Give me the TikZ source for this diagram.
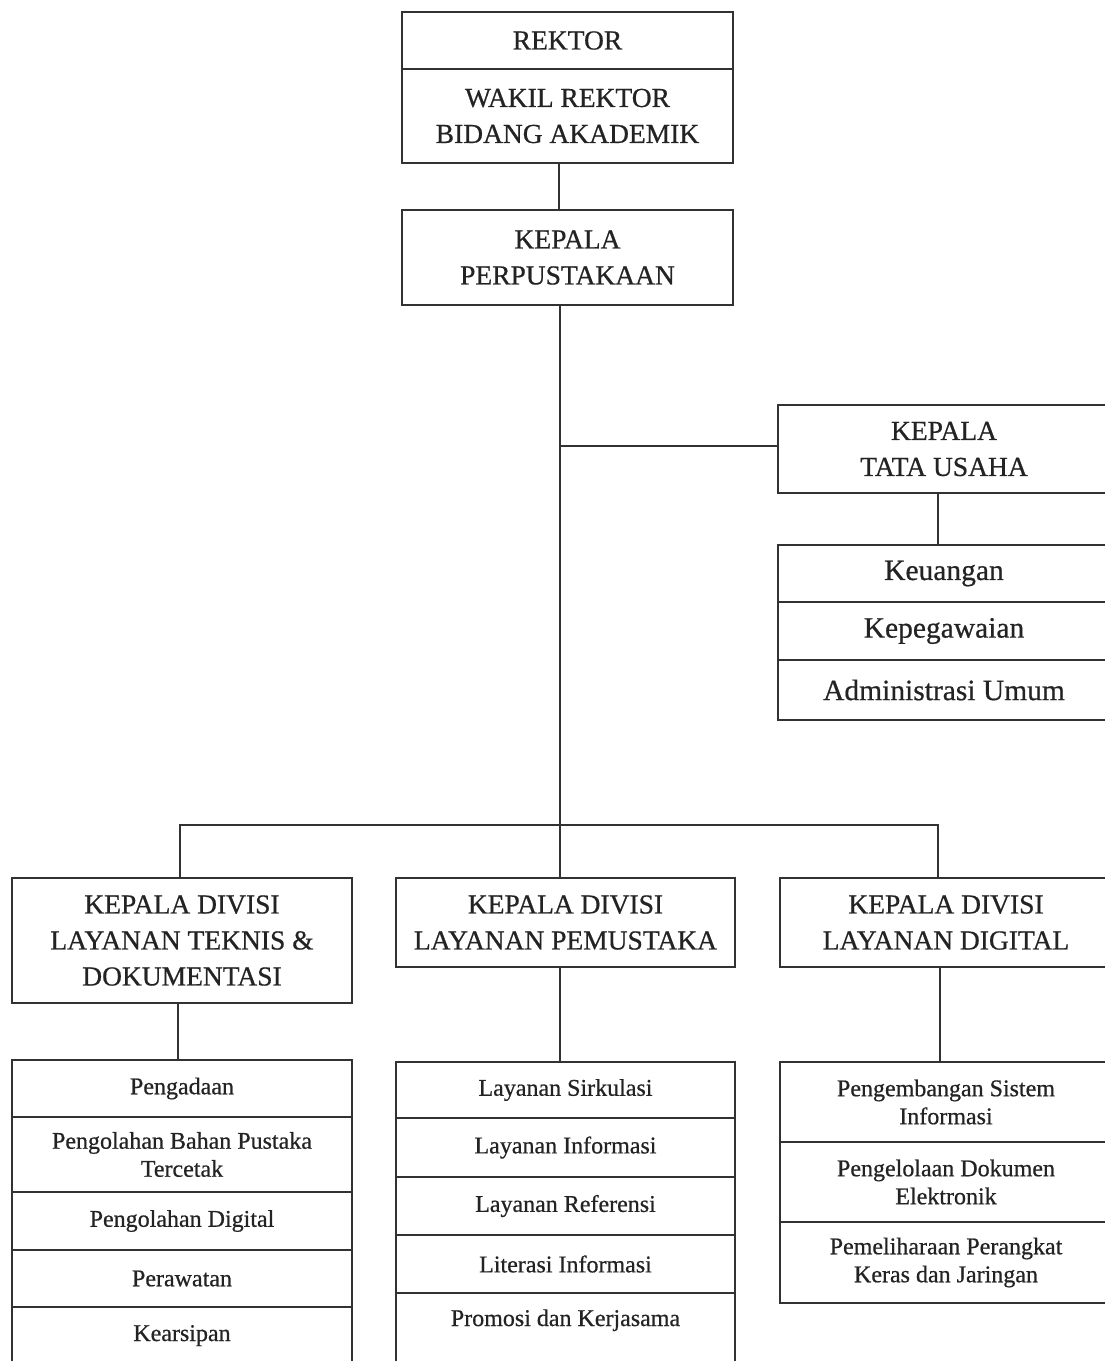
\documentclass[tikz,border=0pt]{standalone}
\usepackage{fontspec}
\setmainfont[FakeBold=0.6]{Liberation Serif}
\begin{document}
\begin{tikzpicture}[x=1pt,y=-1pt,
    box/.style={shape=rectangle,draw=orgline,line width=2pt,text=orgtext,align=center,inner sep=0pt},
    bigtxt/.style={font=\fontsize{27.5}{36}\selectfont},
    midtxt/.style={font=\fontsize{29.5}{34}\selectfont},
    smalltxt/.style={font=\fontsize{24}{28}\selectfont},
    link/.style={draw=orgline,line width=2pt}]
    \definecolor{orgline}{RGB}{50,50,50}
    \definecolor{orgtext}{RGB}{35,35,35}
    \useasboundingbox[fill=white] (0,0) rectangle (1104,1361);
    % top of the chart
    \node[box,bigtxt,minimum width=331,minimum height=57] (rektor) at (567.5,40.5) {REKTOR};
    \node[box,bigtxt,minimum width=331,minimum height=94] (wakil) at (567.5,116) {WAKIL REKTOR\\BIDANG AKADEMIK};
    \node[box,bigtxt,minimum width=331,minimum height=95] (kepala) at (567.5,257.5) {KEPALA\\PERPUSTAKAAN};
    % tata usaha
    \node[box,bigtxt,minimum width=332,minimum height=88] (tatausaha) at (944,449) {KEPALA\\TATA USAHA};
    \node[box,midtxt,minimum width=332,minimum height=57] (keuangan) at (944,573.5) {Keuangan};
    \node[box,midtxt,minimum width=332,minimum height=58] (pegawai) at (944,631) {Kepegawaian};
    \node[box,midtxt,minimum width=332,minimum height=60] (adminum) at (944,690) {Administrasi Umum};
    % divisi
    \node[box,bigtxt,minimum width=340,minimum height=125] (divteknis) at (182,940.5) {KEPALA DIVISI\\LAYANAN TEKNIS \&\\DOKUMENTASI};
    \node[box,bigtxt,minimum width=339,minimum height=89] (divpemustaka) at (565.5,922.5) {KEPALA DIVISI\\LAYANAN PEMUSTAKA};
    \node[box,bigtxt,minimum width=332,minimum height=89] (divdigital) at (946,922.5) {KEPALA DIVISI\\LAYANAN DIGITAL};
    % layanan teknis
    \node[box,smalltxt,minimum width=340,minimum height=57] (pengadaan) at (182,1088.5) {Pengadaan};
    \node[box,smalltxt,minimum width=340,minimum height=75] (tercetak) at (182,1154.5) {Pengolahan Bahan Pustaka\\Tercetak};
    \node[box,smalltxt,minimum width=340,minimum height=58] (olahdigital) at (182,1221) {Pengolahan Digital};
    \node[box,smalltxt,minimum width=340,minimum height=57] (perawatan) at (182,1278.5) {Perawatan};
    \node[box,smalltxt,minimum width=340,anchor=north,text height=34,text depth=50] (kearsipan) at (182,1306) {Kearsipan};
    % layanan pemustaka
    \node[box,smalltxt,minimum width=339,minimum height=56] (sirkulasi) at (565.5,1090) {Layanan Sirkulasi};
    \node[box,smalltxt,minimum width=339,minimum height=59] (informasi) at (565.5,1147.5) {Layanan Informasi};
    \node[box,smalltxt,minimum width=339,minimum height=58] (referensi) at (565.5,1206) {Layanan Referensi};
    \node[box,smalltxt,minimum width=339,minimum height=58] (literasi) at (565.5,1264) {Literasi Informasi};
    \node[box,smalltxt,minimum width=339,anchor=north,text height=33,text depth=55] (promosi) at (565.5,1292) {Promosi dan Kerjasama};
    % layanan digital
    \node[box,smalltxt,minimum width=332,minimum height=80] (sistem) at (946,1102) {Pengembangan Sistem\\Informasi};
    \node[box,smalltxt,minimum width=332,minimum height=80] (dokumen) at (946,1182) {Pengelolaan Dokumen\\Elektronik};
    \node[box,smalltxt,minimum width=332,minimum height=81] (perangkat) at (946,1262.5) {Pemeliharaan Perangkat\\Keras dan Jaringan};
    % connectors
    \coordinate (bus) at (560,825);
    \draw[link] ([xshift=-9pt]wakil.south) -- ([xshift=-9pt]kepala.north);
    \draw[link] ([xshift=-7.5pt]kepala.south) -- ([xshift=-5.5pt]divpemustaka.north);
    \draw[link] ([yshift=3pt]tatausaha.west) -- ([yshift=3pt]tatausaha.west -| bus);
    \draw[link] ([xshift=-6pt]tatausaha.south) -- ([xshift=-6pt]keuangan.north);
    \draw[link] ([xshift=-2pt]divteknis.north) -- ([xshift=-2pt]divteknis.north |- bus) -| ([xshift=-8pt]divdigital.north);
    \draw[link] ([xshift=-4pt]divteknis.south) -- ([xshift=-4pt]pengadaan.north);
    \draw[link] ([xshift=-5.5pt]divpemustaka.south) -- ([xshift=-5.5pt]sirkulasi.north);
    \draw[link] ([xshift=-6pt]divdigital.south) -- ([xshift=-6pt]sistem.north);
\end{tikzpicture}
\end{document}
